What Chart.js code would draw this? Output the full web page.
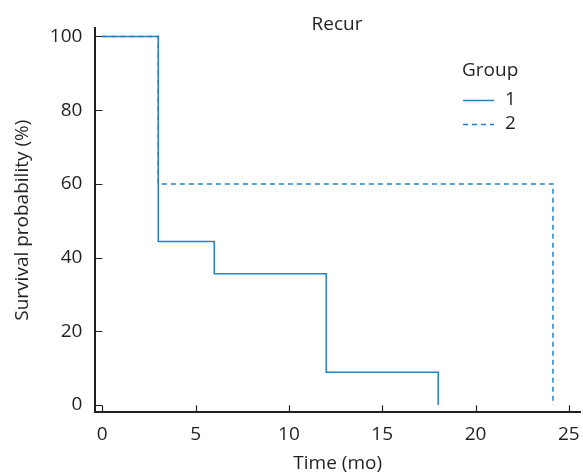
<!DOCTYPE html>
<html>
<head>
<meta charset="utf-8">
<script src="https://cdn.jsdelivr.net/npm/chart.js@4"></script>
<style>
  html, body { margin: 0; padding: 0; background: #fff; }
  canvas { display: block; }
</style>
</head>
<body>
<canvas id="kmChart" width="583" height="475"></canvas>
<script>
  // survival curve data
  var group1Time = [0, 3, 6, 12, 18];
  var group1Surv = [100, 44.4, 35.6, 8.9, 0];
  var group2Time = [0, 3, 24.15];
  var group2Surv = [100, 60, 0];
  var groupLabels = ['1', '2'];
  var xTicks = [0, 5, 10, 15, 20, 25];
  var yTicks = [0, 20, 40, 60, 80, 100];

  var lineColor = '#1f84c8';
  var textColor = '#231f20';
  var fontFamily = "'Open Sans', 'Noto Sans', sans-serif";

  function toPoints(xs, ys) {
    return xs.map((x, i) => ({ x: x, y: ys[i] }));
  }

  // ticks pointing into the plot, plus title and legend
  const decorations = {
    id: 'decorations',
    afterDraw(chart) {
      const ctx = chart.ctx;
      const xs = chart.scales.x;
      const ys = chart.scales.y;
      const area = chart.chartArea;
      ctx.save();
      ctx.strokeStyle = textColor;
      ctx.lineWidth = 1.2;
      ctx.beginPath();
      xs.ticks.forEach(t => {
        const px = Math.round(xs.getPixelForValue(t.value)) + 0.5;
        ctx.moveTo(px, area.bottom);
        ctx.lineTo(px, area.bottom - 7);
      });
      ys.ticks.forEach(t => {
        const py = Math.round(ys.getPixelForValue(t.value)) + 0.5;
        ctx.moveTo(area.left, py);
        ctx.lineTo(area.left + 7, py);
      });
      ctx.stroke();

      // title
      ctx.fillStyle = textColor;
      ctx.font = "19px " + fontFamily;
      ctx.textAlign = 'center';
      ctx.textBaseline = 'middle';
      ctx.fillText('Recur', 337, 25);

      // legend
      ctx.textAlign = 'left';
      ctx.fillText('Group', 462, 71);
      chart.data.datasets.forEach((ds, i) => {
        const ly = 100 + i * 24;
        ctx.strokeStyle = ds.borderColor;
        ctx.lineWidth = 1.5;
        ctx.setLineDash(ds.borderDash || []);
        ctx.beginPath();
        ctx.moveTo(463, ly + 0.5);
        ctx.lineTo(494, ly + 0.5);
        ctx.stroke();
        ctx.setLineDash([]);
        ctx.fillText(ds.label, 505, ly);
      });
      ctx.restore();
    }
  };

  const ctx = document.getElementById('kmChart').getContext('2d');

  new Chart(ctx, {
    type: 'scatter',
    data: {
      datasets: [{
        label: groupLabels[0],
        data: toPoints(group1Time, group1Surv),
        showLine: true,
        stepped: 'before',
        borderColor: lineColor,
        borderWidth: 1.5,
        pointRadius: 0,
        fill: false
      }, {
        label: groupLabels[1],
        data: toPoints(group2Time, group2Surv),
        showLine: true,
        stepped: 'before',
        borderColor: lineColor,
        borderDash: [5, 4],
        borderWidth: 1.5,
        pointRadius: 0,
        fill: false
      }]
    },
    options: {
      responsive: false,
      animation: false,
      devicePixelRatio: 1,
      layout: { padding: { top: 28, right: 3, bottom: 0, left: 11 } },
      plugins: {
        legend: { display: false },
        title: { display: false },
        tooltip: { enabled: false }
      },
      scales: {
        x: {
          type: 'linear',
          min: -0.37,
          max: 25.6,
          afterBuildTicks: axis => { axis.ticks = xTicks.map(v => ({ value: v })); },
          // last label fits inside the canvas, so no extra room on the right
          afterFit: axis => { axis.paddingRight = 0; axis.paddingLeft = 0; },
          grid: { display: false, drawTicks: false },
          border: { display: true, color: textColor, width: 2 },
          ticks: { color: textColor, padding: 11, font: { family: fontFamily, size: 19 } },
          title: {
            display: true,
            text: 'Time (mo)',
            color: textColor,
            padding: { top: -5, bottom: 0 },
            font: { family: fontFamily, size: 19 }
          }
        },
        y: {
          type: 'linear',
          min: -2,
          max: 102.3,
          afterBuildTicks: axis => { axis.ticks = yTicks.map(v => ({ value: v })); },
          grid: { display: false, drawTicks: false },
          border: { display: true, color: textColor, width: 2 },
          ticks: { color: textColor, padding: 13, font: { family: fontFamily, size: 19 } },
          title: {
            display: true,
            text: 'Survival probability (%)',
            color: textColor,
            padding: { top: 0, bottom: 3 },
            font: { family: fontFamily, size: 19 }
          }
        }
      }
    },
    plugins: [decorations]
  });
</script>
</body>
</html>
